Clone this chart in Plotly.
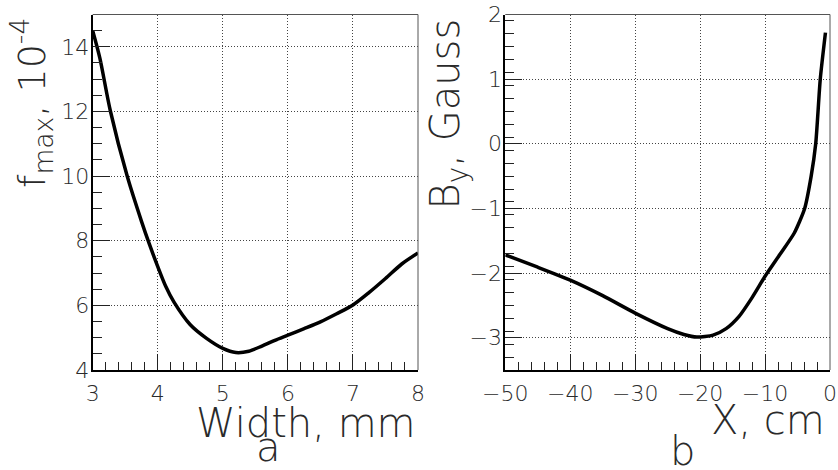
import plotly.graph_objects as go

# Panel a: f_max (x10^-4) vs slit width (mm)
width_mm = [3.0, 3.11, 3.27, 3.53, 3.75, 3.87, 4.0, 4.12, 4.25, 4.5, 4.75, 5.0, 5.2, 5.4, 5.6,
            5.8, 6.0, 6.25, 6.5, 6.75, 7.0, 7.25, 7.5, 7.75, 8.0]
fmax = [14.5, 13.65, 12.03, 10.0, 8.6, 7.9, 7.2, 6.6, 6.1, 5.4, 4.98, 4.67, 4.54, 4.58, 4.74,
        4.92, 5.08, 5.28, 5.49, 5.74, 6.01, 6.40, 6.83, 7.28, 7.62]

# Panel b: B_y (Gauss) vs X (cm)
x_cm = [-50, -45, -40, -35, -30, -25, -22.5, -20.5, -18, -16, -14, -12, -10, -7.7, -5.5,
        -3.9, -2.9, -2.2, -1.5, -0.7]
by_gauss = [-1.72, -1.91, -2.11, -2.35, -2.62, -2.86, -2.95, -2.99, -2.96, -2.86, -2.67, -2.38,
            -2.05, -1.71, -1.38, -1.0, -0.5, 0.0, 1.0, 1.72]

xa_ticks = [3, 4, 5, 6, 7, 8]
xa_labels = ["3", "4", "5", "6", "7", "8"]
ya_ticks = [4, 6, 8, 10, 12, 14]
ya_labels = ["4", "6", "8", "10", "12", "14"]
xb_ticks = [-50, -40, -30, -20, -10, 0]
xb_labels = ["\u221250", "\u221240", "\u221230", "\u221220", "\u221210", "0"]
yb_ticks = [-3, -2, -1, 0, 1, 2]
yb_labels = ["\u22123", "\u22122", "\u22121", "0", "1", "2"]

W, H = 838, 470
FONT = "DejaVu Sans"
TXT = "#2a2a2a"

def px(x):
    return x / W

def py(y):
    return 1 - y / H

fig = go.Figure()
fig.add_trace(go.Scatter(x=width_mm, y=fmax, mode="lines", xaxis="x", yaxis="y",
                         line=dict(color="black", width=3.5, shape="spline", smoothing=0.8),
                         showlegend=False))
fig.add_trace(go.Scatter(x=x_cm, y=by_gauss, mode="lines", xaxis="x2", yaxis="y2",
                         line=dict(color="black", width=3.5, shape="spline", smoothing=0.6),
                         showlegend=False))

grid = dict(showgrid=True, gridcolor="#444", gridwidth=1, griddash="1px,2px", zeroline=False,
            showline=True, linecolor="black", linewidth=2, ticks="inside",
            tickcolor="#222", tickwidth=1.3, automargin=False,
            tickfont=dict(family=FONT, size=22, color=TXT, weight=200))

ydom = [py(370), py(14.5)]
fig.update_layout(
    width=W, height=H, margin=dict(l=0, r=0, t=0, b=0, pad=0),
    paper_bgcolor="white", plot_bgcolor="white",
    xaxis=dict(domain=[px(92.7), px(418)], range=[3, 8], anchor="y",
               tickvals=xa_ticks, ticktext=xa_labels, ticklen=16, ticklabelstandoff=3,
               minor=dict(dtick=0.2, tick0=3, ticklen=8, ticks="inside", tickcolor="#222",
                          tickwidth=1.2, showgrid=False), **grid),
    yaxis=dict(domain=ydom, range=[4, 15], anchor="x",
               tickvals=ya_ticks, ticktext=ya_labels, ticklen=17, ticklabelstandoff=-3,
               minor=dict(dtick=0.5, tick0=4, ticklen=9, ticks="inside", tickcolor="#222",
                          tickwidth=1.2, showgrid=False), **grid),
    xaxis2=dict(domain=[px(505.3), px(830)], range=[-50, 0], anchor="y2",
                tickvals=xb_ticks, ticktext=xb_labels, ticklen=16, ticklabelstandoff=3,
                minor=dict(dtick=2, tick0=-50, ticklen=8, ticks="inside", tickcolor="#222",
                           tickwidth=1.2, showgrid=False), **grid),
    yaxis2=dict(domain=ydom, range=[-3.5, 2], anchor="x2",
                tickvals=yb_ticks, ticktext=yb_labels, ticklen=17, ticklabelstandoff=-3,
                minor=dict(dtick=0.2, tick0=-3.5, ticklen=9, ticks="inside", tickcolor="#222",
                           tickwidth=1.2, showgrid=False), **grid),
)

# thin top/right frame lines
for xr, yr in (("x", "y"), ("x2", "y2")):
    fig.add_shape(type="line", xref=xr + " domain", yref=yr + " domain", x0=0, x1=1, y0=1, y1=1,
                  line=dict(color="#555", width=1))
    fig.add_shape(type="line", xref=xr + " domain", yref=yr + " domain", x0=1, x1=1, y0=0, y1=1,
                  line=dict(color="#555", width=1))

tfont = dict(family=FONT, size=40, color=TXT, weight=200)
ann = [
    dict(text="Width, mm", x=px(418), y=py(423), xanchor="right", yanchor="middle"),
    dict(text="a", x=px(268), y=py(447), xanchor="center", yanchor="middle"),
    dict(text="X, cm", x=px(827), y=py(420), xanchor="right", yanchor="middle"),
    dict(text="b", x=px(682), y=py(451), xanchor="center", yanchor="middle"),
    dict(text="f<sub>max</sub>, 10<sup>-4</sup>", x=px(31), y=py(16), xanchor="center",
         yanchor="top", textangle=-90, font=dict(family=FONT, size=38, color=TXT, weight=200)),
    dict(text="B<sub>y</sub>, Gauss", x=px(447), y=py(17), xanchor="center", yanchor="top",
         textangle=-90),
]
for a in ann:
    a.setdefault("font", tfont)
    fig.add_annotation(xref="paper", yref="paper", showarrow=False, **a)

fig.write_html("out.html", config={"displayModeBar": False},
               post_script="document.body.style.margin='0';document.body.style.overflow='hidden';")
